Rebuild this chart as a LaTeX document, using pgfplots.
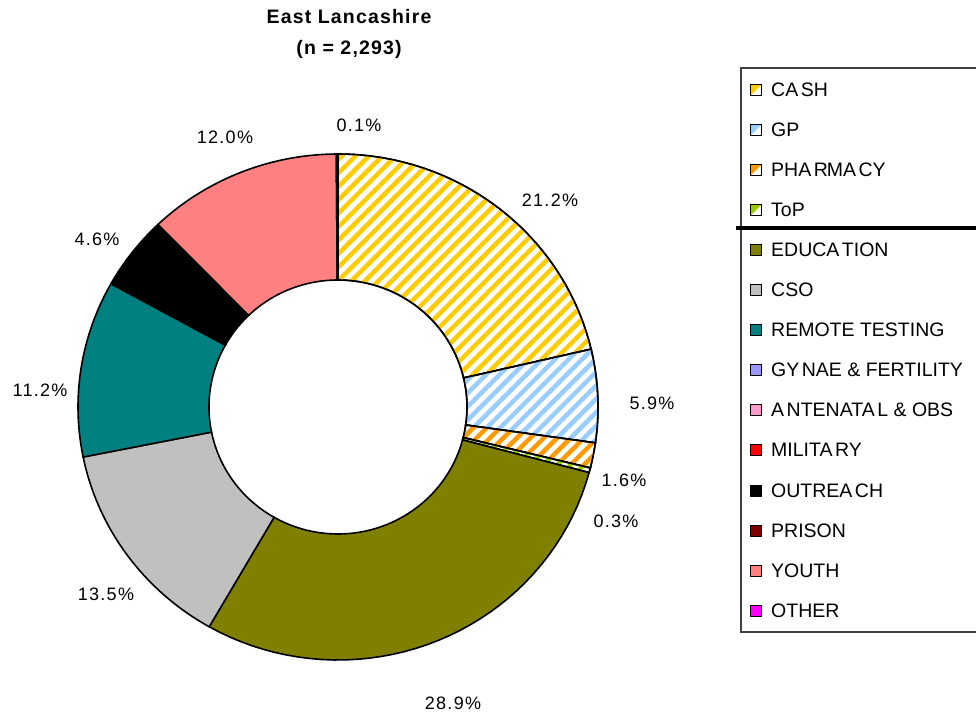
\documentclass[border=0pt]{standalone}
\usepackage{fontspec}
\setmainfont{Liberation Sans}
\newfontfamily\lblfont[LetterSpace=7]{Liberation Sans}
\newfontfamily\legfont{Liberation Sans}
\newfontfamily\titfont[LetterSpace=6]{Liberation Sans}
\usepackage{pgfplots}
\pgfplotsset{compat=1.18}
\usetikzlibrary{patterns.meta}

\definecolor{cCash}{RGB}{255,204,0}
\definecolor{cGP}{RGB}{153,204,255}
\definecolor{cPharm}{RGB}{255,153,0}
\definecolor{cToP}{RGB}{153,204,0}
\definecolor{cEdu}{RGB}{128,128,0}
\definecolor{cCSO}{RGB}{192,192,192}
\definecolor{cRemote}{RGB}{0,128,128}
\definecolor{cGynae}{RGB}{153,153,255}
\definecolor{cAnte}{RGB}{255,153,204}
\definecolor{cMil}{RGB}{255,0,0}
\definecolor{cOut}{RGB}{0,0,0}
\definecolor{cPrison}{RGB}{128,0,0}
\definecolor{cYouth}{RGB}{255,128,128}
\definecolor{cOther}{RGB}{255,0,255}

\tikzset{hatch/.style={preaction={fill=white},
  pattern={Lines[angle=45,distance=9.5pt,line width=4.5pt]}, pattern color=#1}}

% slice: #1 style, #2 start (percent), #3 value (percent); total 99.4
\newcommand\slice[3]{%
\addplot[#1, draw=black, line width=1.6pt, no markers, samples at={0,1,...,81}, variable=\t]
 ({338 + ((\t<=40) ? 260 : 129)*sin(((\t<=40) ? (#2+#3*\t/40) : (#2+#3*(81-\t)/40))*3.621730)},
  {306 + ((\t<=40) ? 253 : 127)*cos(((\t<=40) ? (#2+#3*\t/40) : (#2+#3*(81-\t)/40))*3.621730)}) -- cycle;
}
\newcommand\g{\kern2.5pt}

\begin{document}
\begin{tikzpicture}
\begin{axis}[x=1pt, y=1pt, xmin=0, xmax=976, ymin=0, ymax=713,
  hide axis, clip=false, at={(0,0)}, anchor=south west]
\coordinate (LL) at (axis cs:0,0);
\coordinate (UR) at (axis cs:976,713);
% CASH 21.2, GP 5.9, PHARMACY 1.6, ToP 0.3, EDUCATION 28.9, CSO 13.5,
% REMOTE TESTING 11.2, ANTENATAL 0.1, OUTREACH 4.6, YOUTH 12.0, OTHER 0.1
\slice{hatch=cCash}{0}{21.2}
\slice{hatch=cGP}{21.2}{5.9}
\slice{hatch=cPharm}{27.1}{1.6}
\slice{hatch=cToP}{28.7}{0.3}
\slice{fill=cEdu}{29.0}{28.9}
\slice{fill=cCSO}{57.9}{13.5}
\slice{fill=cRemote}{71.4}{11.2}
\slice{fill=cAnte}{82.6}{0.1}
\slice{fill=cOut}{82.7}{4.6}
\slice{fill=cYouth}{87.3}{12.0}
\slice{fill=cOther}{99.3}{0.1}

\begin{scope}[font=\lblfont\fontsize{18}{20}\selectfont]
\node[anchor=base] at (axis cs:359,713-132) {0.1\%};
\node[anchor=base] at (axis cs:550,713-207) {21.2\%};
\node[anchor=base] at (axis cs:652,713-409) {5.9\%};
\node[anchor=base] at (axis cs:624,713-486) {1.6\%};
\node[anchor=base] at (axis cs:616,713-527) {0.3\%};
\node[anchor=base] at (axis cs:453,713-709) {28.9\%};
\node[anchor=base] at (axis cs:106,713-600) {13.5\%};
\node[anchor=base] at (axis cs:40,713-396) {11.2\%};
\node[anchor=base] at (axis cs:97,713-246) {4.6\%};
\node[anchor=base] at (axis cs:225,713-144) {12.0\%};
\end{scope}
\node[anchor=base, font=\titfont\bfseries\fontsize{19.5}{22}\selectfont] at (axis cs:349,713-24) {East Lancashire};
\node[anchor=base, font=\titfont\bfseries\fontsize{19.5}{22}\selectfont] at (axis cs:349,713-55) {(n = 2,293)};
\end{axis}

\begin{scope}[shift={(LL)}, x=1pt, y=1pt]
\draw[line width=1.6pt, black!75] (741,81) rectangle (1000,645);
\draw[line width=3.5pt] (736,485) -- (1000,485);
\foreach \yy/\col/\nm in {90/cCash/CA\g SH, 130/cGP/GP, 170/cPharm/PHA\g R\kern-1pt MA\g CY, 210/cToP/ToP}{
  \fill[white] (750.5,713-\yy-5.5) rectangle (761.5,713-\yy+5.5);
  \fill[\col] (750.5,713-\yy-5.5) -- (750.5,713-\yy+5.5) -- (761.5,713-\yy+5.5) -- cycle;
  \draw[line width=1.3pt] (750.5,713-\yy-5.5) rectangle (761.5,713-\yy+5.5);
  \node[anchor=west, inner sep=0pt, font=\legfont\fontsize{19.5}{20}\selectfont] at (771,713-\yy) {\nm};
}
\foreach \yy/\col/\nm in {250/cEdu/EDUCA\g TION, 290/cCSO/CSO, 330/cRemote/REMOTE TESTING,
   370/cGynae/GY\g NAE \& FERTILITY, 410/cAnte/A\g NTENATA\g L \& OBS, 450/cMil/MILITA\g RY,
   491/cOut/OUTREA\g CH, 531/cPrison/PRISON, 571/cYouth/YOUTH, 611/cOther/OTHER}{
  \draw[line width=1.3pt, fill=\col] (750.5,713-\yy-5.5) rectangle (761.5,713-\yy+5.5);
  \node[anchor=west, inner sep=0pt, font=\legfont\fontsize{19.5}{20}\selectfont] at (771,713-\yy) {\nm};
}
\end{scope}
\pgfresetboundingbox
\path[use as bounding box] (LL) rectangle (UR);
\end{tikzpicture}
\end{document}
